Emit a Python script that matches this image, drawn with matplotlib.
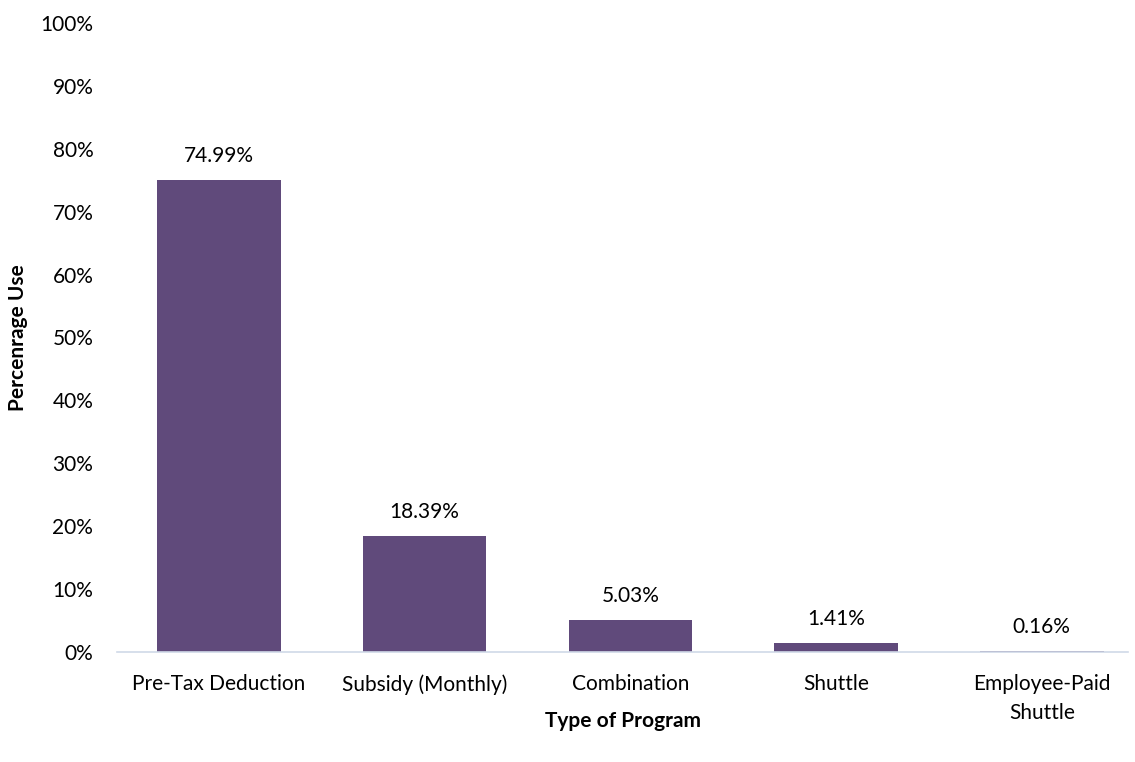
import matplotlib.pyplot as plt
from matplotlib.ticker import FuncFormatter

categories = ["Pre-Tax Deduction", "Subsidy (Monthly)", "Combination", "Shuttle", "Employee-Paid\nShuttle"]
values = [74.99, 18.39, 5.03, 1.41, 0.16]
value_labels = ["74.99%", "18.39%", "5.03%", "1.41%", "0.16%"]

plt.rcParams['font.family'] = ['Lato', 'DejaVu Sans']

fig = plt.figure(figsize=(11.35, 7.62), dpi=100)
ax = fig.add_axes([0.103, 0.1444, 0.891, 0.8254])

x = range(len(categories))
bars = ax.bar(x, values, width=0.6, color="#604a7b")

for b, lab in zip(bars, value_labels):
    ax.annotate(lab, (b.get_x() + b.get_width() / 2, b.get_height()),
                xytext=(0, 10), textcoords="offset points",
                ha="center", va="bottom", fontsize=15)

ax.set_xlim(-0.496, 4.42)
ax.set_ylim(0, 100)
ax.set_yticks(range(0, 101, 10))
ax.yaxis.set_major_formatter(FuncFormatter(lambda v, p: f"{int(v)}%"))
ax.set_xticks(list(x))
ax.set_xticklabels(categories, linespacing=1.55)
ax.tick_params(length=0, labelsize=15)
ax.tick_params(axis="x", pad=16)
ax.tick_params(axis="y", pad=17)

for s in ["top", "right", "left"]:
    ax.spines[s].set_visible(False)
ax.spines["bottom"].set_color("#d0d9e8")
ax.spines["bottom"].set_linewidth(1.2)

ax.set_ylabel("Percenrage Use", fontsize=15, fontweight="bold")
ax.set_xlabel("Type of Program", fontsize=15, fontweight="bold")
ax.yaxis.set_label_coords(-0.088, 0.5)
ax.xaxis.set_label_coords(0.5, -0.094)

fig.savefig("out.png", dpi=100)
